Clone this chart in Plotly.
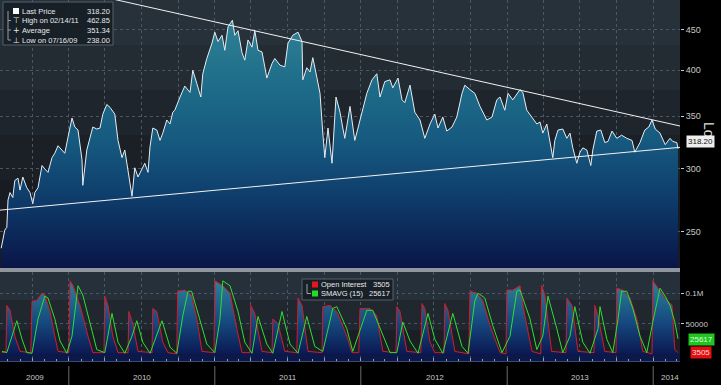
import plotly.graph_objects as go

# ---------------- data ----------------
price_dates = [
    "2009-07-16", "2009-07-25", "2009-07-30", "2009-08-02", "2009-08-07", "2009-08-14", "2009-08-19",
    "2009-08-27", "2009-09-01", "2009-09-08", "2009-09-18", "2009-09-26", "2009-10-03", "2009-10-08",
    "2009-10-16", "2009-10-26", "2009-11-02", "2009-11-10", "2009-11-20", "2009-11-27", "2009-12-05",
    "2009-12-15", "2009-12-22", "2009-12-30", "2010-01-09", "2010-01-16", "2010-01-24", "2010-02-03",
    "2010-02-05", "2010-02-15", "2010-02-23", "2010-03-02", "2010-03-12", "2010-03-20", "2010-03-27",
    "2010-04-06", "2010-04-14", "2010-04-26", "2010-05-04", "2010-05-14", "2010-05-21", "2010-05-29",
    "2010-06-08", "2010-06-15", "2010-06-23", "2010-07-03", "2010-07-10", "2010-07-18", "2010-07-23",
    "2010-07-30", "2010-08-09", "2010-08-17", "2010-08-24", "2010-09-03", "2010-09-11", "2010-09-18",
    "2010-09-23", "2010-10-06", "2010-10-18", "2010-10-31", "2010-11-07", "2010-11-17", "2010-11-27",
    "2010-12-02", "2010-12-12", "2010-12-25", "2011-01-01", "2011-01-09", "2011-01-19", "2011-01-26",
    "2011-02-03", "2011-02-14", "2011-02-20", "2011-02-28", "2011-03-10", "2011-03-17", "2011-03-25",
    "2011-04-04", "2011-04-11", "2011-04-19", "2011-04-29", "2011-05-06", "2011-05-11", "2011-05-24",
    "2011-05-31", "2011-06-13", "2011-06-25", "2011-07-03", "2011-07-15", "2011-07-28", "2011-08-07",
    "2011-08-09", "2011-08-19", "2011-08-27", "2011-09-03", "2011-09-13", "2011-09-21", "2011-09-28",
    "2011-10-03", "2011-10-11", "2011-10-21", "2011-10-31", "2011-11-10", "2011-11-17", "2011-11-22",
    "2011-12-05", "2011-12-17", "2011-12-25", "2012-01-04", "2012-01-16", "2012-01-29", "2012-02-10",
    "2012-02-18", "2012-03-01", "2012-03-14", "2012-03-21", "2012-04-03", "2012-04-13", "2012-04-20",
    "2012-05-03", "2012-05-15", "2012-05-28", "2012-06-09", "2012-06-22", "2012-07-04", "2012-07-12",
    "2012-07-24", "2012-08-03", "2012-08-16", "2012-08-28", "2012-09-10", "2012-09-17", "2012-09-30",
    "2012-10-12", "2012-10-25", "2012-11-11", "2012-11-24", "2012-12-06", "2012-12-14", "2012-12-26",
    "2013-01-03", "2013-01-15", "2013-02-02", "2013-02-09", "2013-02-19", "2013-03-04", "2013-03-16",
    "2013-03-24", "2013-03-31", "2013-04-10", "2013-04-18", "2013-04-25", "2013-04-30", "2013-05-08",
    "2013-05-20", "2013-05-30", "2013-06-07", "2013-06-14", "2013-06-24", "2013-07-02", "2013-07-09",
    "2013-07-19", "2013-07-29", "2013-08-03", "2013-08-13", "2013-08-23", "2013-09-02", "2013-09-10",
    "2013-09-20", "2013-10-02", "2013-10-14", "2013-10-27", "2013-11-09", "2013-11-16", "2013-11-29",
    "2013-12-11", "2013-12-21", "2013-12-29", "2014-01-06", "2014-01-18", "2014-01-31", "2014-02-12",
    "2014-02-19", "2014-03-01", "2014-03-04",
]
price_values = [
    238, 251, 253, 274, 280, 276, 290,
    292, 282, 293, 284, 280, 271, 280,
    284, 303, 300, 297, 310, 314, 321,
    317, 314, 329, 348, 339, 336, 308,
    286, 317, 328, 339, 337, 338, 352,
    362, 359, 352, 326, 310, 317, 300,
    277, 301, 293, 300, 305, 297, 320,
    338, 336, 326, 333, 346, 342, 354,
    356, 370, 382, 375, 400, 385, 370,
    396, 414, 433, 447, 435, 443, 424,
    454, 462.85, 443, 449, 421, 412, 437,
    428, 449, 424, 422, 404, 391, 408,
    414, 406, 404, 433, 443, 447, 435,
    389, 403, 398, 415, 392, 374, 333,
    310, 338, 305, 370, 354, 338, 328,
    360, 326, 338, 354, 374, 389, 396,
    370, 387, 389, 380, 391, 367, 364,
    383, 354, 346, 328, 342, 352, 338,
    349, 335, 339, 349, 374, 383, 378,
    374, 360, 346, 349, 367, 370, 356,
    374, 367, 378, 375, 356, 349, 342,
    344, 333, 342, 324, 310, 326, 336,
    337, 328, 333, 319, 305, 315, 319,
    317, 303, 317, 335, 336, 324, 325,
    335, 328, 331, 328, 326, 315, 324,
    336, 339, 346, 337, 333, 322, 328,
    325, 324, 318.2,
]

trend_dates = ["2009-07-13", "2014-03-09"]
upper_trend_values = [530, 340]
lower_trend_values = [266, 319.5]

oi_dates = [
    "2009-07-18", "2009-07-28", "2009-07-30", "2009-08-07", "2009-08-19", "2009-09-01", "2009-09-28",
    "2009-10-01", "2009-10-13", "2009-10-26", "2009-11-02", "2009-11-15", "2009-11-27", "2009-12-05",
    "2010-01-01", "2010-01-04", "2010-01-11", "2010-01-29", "2010-02-18", "2010-03-02", "2010-03-30",
    "2010-04-01", "2010-04-09", "2010-04-21", "2010-05-04", "2010-05-29", "2010-05-31", "2010-06-10",
    "2010-06-23", "2010-07-28", "2010-07-30", "2010-08-09", "2010-08-24", "2010-09-06", "2010-09-28",
    "2010-09-30", "2010-10-18", "2010-11-04", "2010-11-17", "2010-11-30", "2010-12-30", "2011-01-01",
    "2011-01-19", "2011-02-08", "2011-02-25", "2011-03-10", "2011-03-30", "2011-04-01", "2011-04-11",
    "2011-04-29", "2011-05-24", "2011-05-26", "2011-06-08", "2011-06-25", "2011-07-25", "2011-07-28",
    "2011-08-07", "2011-08-22", "2011-09-26", "2011-09-28", "2011-10-16", "2011-11-02", "2011-11-27",
    "2011-12-10", "2011-12-27", "2011-12-30", "2012-01-24", "2012-02-10", "2012-02-25", "2012-03-29",
    "2012-03-31", "2012-04-08", "2012-04-25", "2012-05-30", "2012-06-02", "2012-06-09", "2012-06-22",
    "2012-07-04", "2012-07-27", "2012-07-29", "2012-08-06", "2012-08-23", "2012-09-27", "2012-09-30",
    "2012-10-17", "2012-11-01", "2012-11-19", "2012-12-14", "2012-12-29", "2012-12-31", "2013-01-15",
    "2013-02-02", "2013-02-14", "2013-03-04", "2013-03-26", "2013-03-28", "2013-04-05", "2013-04-22",
    "2013-05-28", "2013-05-30", "2013-06-12", "2013-06-27", "2013-08-06", "2013-08-08", "2013-08-16",
    "2013-09-02", "2013-09-30", "2013-10-02", "2013-10-17", "2013-11-04", "2013-11-21", "2013-12-06",
    "2013-12-29", "2013-12-31", "2014-01-13", "2014-01-31", "2014-02-17", "2014-02-24", "2014-03-03",
]
oi_values = [
    3000, 5000, 80000, 72000, 30000, 5000, 3000,
    87000, 88000, 100000, 97000, 70000, 30000, 5000,
    3000, 120000, 113000, 80000, 30000, 3000, 3000,
    95000, 80000, 30000, 3000, 3000, 70000, 50000,
    5000, 3000, 75000, 70000, 20000, 3000, 1000,
    103000, 105000, 97000, 58000, 5000, 3000, 120000,
    113000, 100000, 42000, 3000, 3000, 80000, 67000,
    5000, 3000, 58000, 50000, 5000, 3000, 92000,
    80000, 5000, 3000, 78000, 80000, 70000, 30000,
    3000, 3000, 75000, 75000, 63000, 5000, 3000,
    78000, 70000, 5000, 3000, 83000, 75000, 20000,
    3000, 3000, 83000, 72000, 5000, 1000, 103000,
    100000, 88000, 47000, 3000, 1000, 105000, 105000,
    112000, 63000, 5000, 1000, 113000, 97000, 5000,
    3000, 92000, 80000, 5000, 3000, 80000, 63000,
    5000, 3000, 108000, 105000, 92000, 58000, 5000,
    1000, 120000, 108000, 92000, 80000, 8000, 3505,
]

sma_dates = [
    "2009-07-18", "2009-07-30", "2009-08-24", "2009-09-06", "2009-09-18", "2009-10-01", "2009-10-16",
    "2009-11-02", "2009-11-10", "2009-11-27", "2009-12-10", "2009-12-27", "2010-01-09", "2010-01-24",
    "2010-02-05", "2010-02-23", "2010-03-12", "2010-04-01", "2010-04-19", "2010-05-04", "2010-05-21",
    "2010-06-08", "2010-06-20", "2010-07-05", "2010-07-23", "2010-08-22", "2010-09-11", "2010-09-28",
    "2010-10-13", "2010-10-26", "2010-11-04", "2010-11-24", "2010-12-12", "2011-01-01", "2011-01-14",
    "2011-01-21", "2011-02-08", "2011-02-28", "2011-03-17", "2011-04-04", "2011-04-19", "2011-05-11",
    "2011-05-26", "2011-06-18", "2011-07-08", "2011-07-28", "2011-08-19", "2011-09-08", "2011-09-28",
    "2011-10-23", "2011-11-02", "2011-11-27", "2011-12-12", "2012-01-16", "2012-01-31", "2012-02-23",
    "2012-03-14", "2012-03-31", "2012-04-15", "2012-05-03", "2012-05-23", "2012-06-17", "2012-07-04",
    "2012-07-24", "2012-08-18", "2012-09-10", "2012-09-25", "2012-10-12", "2012-10-20", "2012-11-06",
    "2012-11-26", "2012-12-19", "2013-01-08", "2013-01-25", "2013-02-02", "2013-02-27", "2013-03-16",
    "2013-03-31", "2013-04-13", "2013-05-05", "2013-05-20", "2013-06-07", "2013-06-19", "2013-07-09",
    "2013-07-27", "2013-08-16", "2013-08-21", "2013-09-07", "2013-09-22", "2013-10-05", "2013-10-14",
    "2013-10-27", "2013-11-11", "2013-11-29", "2013-12-16", "2013-12-31", "2014-01-18", "2014-01-31",
    "2014-02-12", "2014-02-24", "2014-03-04",
]
sma_values = [
    5000, 3000, 55000, 25000, 3000, 2000, 58000,
    95000, 92000, 58000, 22000, 2000, 30000, 112000,
    97000, 53000, 8000, 3000, 67000, 20000, 2000,
    30000, 55000, 20000, 2000, 55000, 12000, 2000,
    63000, 103000, 103000, 58000, 17000, 3000, 58000,
    120000, 112000, 70000, 20000, 2000, 62000, 17000,
    2000, 70000, 17000, 2000, 62000, 13000, 5000,
    75000, 78000, 42000, 5000, 72000, 72000, 35000,
    3000, 3000, 53000, 22000, 2000, 67000, 25000,
    2000, 67000, 13000, 2000, 87000, 100000, 92000,
    47000, 3000, 30000, 103000, 105000, 58000, 8000,
    30000, 95000, 42000, 3000, 30000, 78000, 20000,
    2000, 42000, 78000, 25000, 3000, 58000, 103000,
    103000, 75000, 30000, 3000, 53000, 108000, 95000,
    80000, 53000, 25617,
]

year_labels = ["2009", "2010", "2011", "2012", "2013", "2014"]
year_label_dates = ["2009-10-08", "2010-07-03", "2011-07-03", "2012-07-04", "2013-07-02", "2014-02-12"]
year_bounds = ["2010-01-01", "2011-01-01", "2012-01-01", "2013-01-01", "2014-01-01"]

price_ticks = [250, 300, 350, 400, 450]
oi_ticks = [50000, 100000]
oi_ticktext = ["50000", "0.1M"]

legend_names = ["Last Price", "High on 02/14/11", "Average", "Low on 07/16/09"]
legend_values = ["318.20", "462.85", "351.34", "238.00"]

# ---------------- figure ----------------
W, H = 721, 385
FONT = "Liberation Sans"


def px(x):
    return x / W


def py(y):
    return 1 - y / H


x_range = ["2009-07-13", "2014-03-09"]
XD = [0, px(680)]

fig = go.Figure()

fig.add_trace(go.Scatter(
    x=price_dates, y=price_values, mode="lines", fill="tozeroy",
    line=dict(color="#e6edf2", width=1),
    fillgradient=dict(type="vertical", start=224.7, stop=468, colorscale=[
        [0.0, "#0a1547"], [0.12, "#0b2657"], [0.3, "#0f3f6d"], [0.5, "#16597f"],
        [0.7, "#1d6a88"], [0.92, "#2a7c92"], [1.0, "#2e8397"]]),
    xaxis="x", yaxis="y", hoverinfo="skip", showlegend=False))

fig.add_trace(go.Scatter(x=trend_dates, y=upper_trend_values, mode="lines",
                         line=dict(color="#f2f2f2", width=1), xaxis="x", yaxis="y",
                         showlegend=False, hoverinfo="skip"))
fig.add_trace(go.Scatter(x=trend_dates, y=lower_trend_values, mode="lines",
                         line=dict(color="#f2f2f2", width=1), xaxis="x", yaxis="y",
                         showlegend=False, hoverinfo="skip"))

fig.add_trace(go.Scatter(
    x=oi_dates, y=oi_values, mode="lines", fill="tozeroy",
    line=dict(color="#d41a2a", width=1),
    fillgradient=dict(type="vertical", start=0, stop=120000, colorscale=[
        [0.0, "#0b1852"], [0.45, "#164a80"], [1.0, "#2f8099"]]),
    xaxis="x2", yaxis="y2", hoverinfo="skip", showlegend=False))
fig.add_trace(go.Scatter(x=sma_dates, y=sma_values, mode="lines",
                         line=dict(color="#2ee02e", width=1), xaxis="x2", yaxis="y2",
                         showlegend=False, hoverinfo="skip"))

grid = "#4b5763"
fig.update_layout(
    width=W, height=H, margin=dict(l=0, r=0, t=0, b=0),
    paper_bgcolor="#000000", plot_bgcolor="#1c2228",
    font=dict(family=FONT, size=8, color="#c8c8c8"),
    xaxis=dict(domain=XD, range=x_range, type="date", anchor="y",
               showticklabels=False, showgrid=True, gridcolor=grid, griddash="dot",
               gridwidth=1, dtick="M3", tick0="2009-01-01", zeroline=False),
    yaxis=dict(domain=[py(268), 1], type="log", range=[2.3516, 2.6911], side="right",
               anchor="x", tickvals=price_ticks, ticks="outside", ticklen=3,
               tickcolor="#c8c8c8", showgrid=True, gridcolor=grid, griddash="dot",
               tickfont=dict(size=9, color="#c8c8c8", family=FONT), zeroline=False),
    xaxis2=dict(domain=XD, range=x_range, type="date", anchor="y2",
                showticklabels=False, showgrid=True, gridcolor=grid, griddash="dot",
                dtick="M3", tick0="2009-01-01", ticks="inside", ticklen=3,
                tickcolor="#9aa4b0", showline=True, linecolor="#3a4a78", linewidth=1,
                minor=dict(dtick="M1", ticks="inside", ticklen=2, tickcolor="#9aa4b0",
                           showgrid=False),
                zeroline=False),
    yaxis2=dict(domain=[py(361), py(272)], range=[-10600, 134400], side="right",
                anchor="x2", tickvals=oi_ticks, ticktext=oi_ticktext, ticks="outside",
                ticklen=3, tickcolor="#c8c8c8", showgrid=True, gridcolor=grid,
                griddash="dot", tickfont=dict(size=8, color="#c8c8c8", family=FONT),
                zeroline=False),
)

shapes = []
# background bands (main panel)
bands_main = [(0, 45, "#27313a"), (45, 90, "#232b33"), (90, 135, "#1f252c"),
              (135, 180, "#1b2026"), (180, 268, "#181c22")]
for y0, y1, c in bands_main:
    shapes.append(dict(type="rect", xref="paper", yref="paper", x0=XD[0], x1=XD[1],
                       y0=py(y1), y1=py(y0), fillcolor=c, line=dict(width=0), layer="below"))
bands_low = [(272, 300, "#26303a"), (300, 330, "#20272e"), (330, 354, "#1a1f25"),
             (354, 361, "#0c1848")]
for y0, y1, c in bands_low:
    shapes.append(dict(type="rect", xref="paper", yref="paper", x0=XD[0], x1=XD[1],
                       y0=py(y1), y1=py(y0), fillcolor=c, line=dict(width=0), layer="below"))
# separator between panels
shapes.append(dict(type="rect", xref="paper", yref="paper", x0=XD[0], x1=XD[1],
                   y0=py(272), y1=py(268), fillcolor="#8f969e", line=dict(width=0)))
# year separators in the bottom strip
for d in year_bounds:
    shapes.append(dict(type="line", xref="x2", yref="paper", x0=d, x1=d,
                       y0=py(385), y1=py(366), line=dict(color="#6a6a6a", width=1)))

# legend box (main)
shapes.append(dict(type="rect", xref="paper", yref="paper", x0=px(3), x1=px(113),
                   y0=py(45), y1=py(2), fillcolor="rgba(22,30,38,0.9)",
                   line=dict(color="#56606a", width=1)))
shapes.append(dict(type="rect", xref="paper", yref="paper", x0=px(13), x1=px(19),
                   y0=py(14), y1=py(8), fillcolor="#ffffff", line=dict(width=0)))
shapes.append(dict(type="line", xref="paper", yref="paper", x0=px(8), x1=px(8),
                   y0=py(40), y1=py(11), line=dict(color="#9aa0a6", width=1)))
for yy in (20.5, 30, 40):
    shapes.append(dict(type="line", xref="paper", yref="paper", x0=px(8), x1=px(11),
                       y0=py(yy), y1=py(yy), line=dict(color="#9aa0a6", width=1)))

# legend box (lower)
shapes.append(dict(type="rect", xref="paper", yref="paper", x0=px(302), x1=px(393),
                   y0=py(300), y1=py(279), fillcolor="rgba(22,30,38,0.9)",
                   line=dict(color="#56606a", width=1)))
shapes.append(dict(type="rect", xref="paper", yref="paper", x0=px(312), x1=px(318),
                   y0=py(287.5), y1=py(281.5), fillcolor="#e8141e", line=dict(width=0)))
shapes.append(dict(type="rect", xref="paper", yref="paper", x0=px(312), x1=px(318),
                   y0=py(296.5), y1=py(290.5), fillcolor="#22dd22", line=dict(width=0)))
shapes.append(dict(type="line", xref="paper", yref="paper", x0=px(307), x1=px(307),
                   y0=py(293.5), y1=py(284), line=dict(color="#9aa0a6", width=1)))
shapes.append(dict(type="line", xref="paper", yref="paper", x0=px(307), x1=px(311),
                   y0=py(293.5), y1=py(293.5), line=dict(color="#9aa0a6", width=1)))
fig.update_layout(shapes=shapes)

LF = dict(size=7.5, color="#e8e8e8", family=FONT)
ann = []
# rotated scale label (drawn first so the value tag sits on top)
ann.append(dict(x=px(709), y=py(133), xref="paper", yref="paper", text="Log",
                showarrow=False, textangle=90, xanchor="center", yanchor="middle",
                font=dict(size=14, color="#dddddd", family=FONT)))

icons = ["", "\u22a4", "+", "\u22a5"]
rows_y = [11, 20.5, 30, 40]
for name, val, icon, yy in zip(legend_names, legend_values, icons, rows_y):
    ann.append(dict(x=px(21), y=py(yy), xref="paper", yref="paper", text=name,
                    showarrow=False, xanchor="left", yanchor="middle", borderpad=0,
                    font=LF))
    ann.append(dict(x=px(111), y=py(yy), xref="paper", yref="paper", text=val,
                    showarrow=False, xanchor="right", yanchor="middle", borderpad=0,
                    font=LF))
    if icon:
        ann.append(dict(x=px(16), y=py(yy), xref="paper", yref="paper", text=icon,
                        showarrow=False, xanchor="center", yanchor="middle",
                        font=dict(size=8, color="#e8e8e8", family="DejaVu Sans")))

ann.append(dict(x=px(320), y=py(284.5), xref="paper", yref="paper", text="Open Interest",
                showarrow=False, xanchor="left", yanchor="middle", borderpad=0, font=LF))
ann.append(dict(x=px(391), y=py(284.5), xref="paper", yref="paper", text="3505",
                showarrow=False, xanchor="right", yanchor="middle", borderpad=0, font=LF))
ann.append(dict(x=px(320), y=py(293.5), xref="paper", yref="paper", text="SMAVG (15)",
                showarrow=False, xanchor="left", yanchor="middle", borderpad=0, font=LF))
ann.append(dict(x=px(391), y=py(293.5), xref="paper", yref="paper", text="25617",
                showarrow=False, xanchor="right", yanchor="middle", borderpad=0, font=LF))

# year labels
for lab, d in zip(year_labels, year_label_dates):
    ann.append(dict(x=d, y=py(377), xref="x2", yref="paper", text=lab, showarrow=False,
                    xanchor="center", yanchor="middle",
                    font=dict(size=8, color="#c8c8c8", family=FONT)))

# right-side value tags
ann.append(dict(x=px(700), y=py(141), xref="paper", yref="paper", text="318.20",
                showarrow=False, xanchor="center", yanchor="middle", bgcolor="#eeeeee",
                borderpad=1, font=dict(size=8, color="#111111", family=FONT)))
ann.append(dict(x=px(701), y=py(339), xref="paper", yref="paper", text="25617",
                showarrow=False, xanchor="center", yanchor="middle", bgcolor="#21c421",
                borderpad=1, font=dict(size=8, color="#d8ffd8", family=FONT)))
ann.append(dict(x=px(701), y=py(352), xref="paper", yref="paper", text="3505",
                showarrow=False, xanchor="center", yanchor="middle", bgcolor="#e01010",
                borderpad=1, font=dict(size=8, color="#ffd8d8", family=FONT)))

fig.update_layout(annotations=ann)

fig.write_html("out.html", config={"displayModeBar": False},
               post_script="document.body.style.margin='0';")
